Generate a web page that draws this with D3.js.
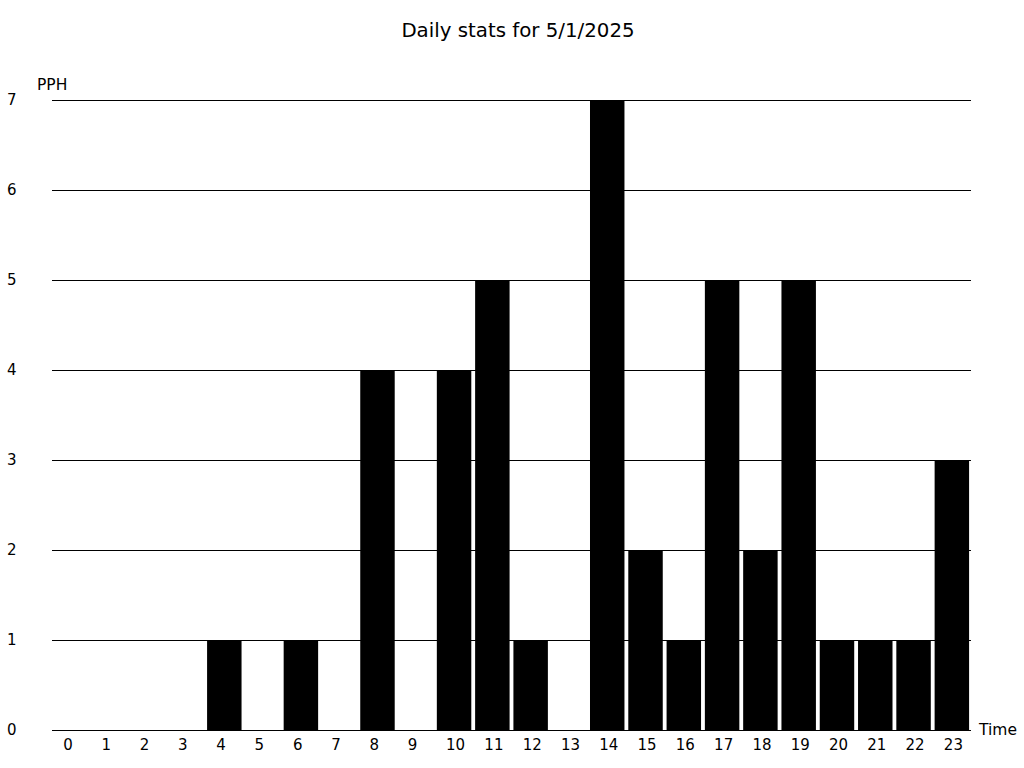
<!DOCTYPE html>
<html lang="en">
<head>
<meta charset="utf-8">
<script src="https://d3js.org/d3.v7.min.js"></script>
<style>
  body { margin: 0; background: #fff; }
  text { font-family: "DejaVu Sans", sans-serif; fill: #000; }
</style>
</head>
<body>
<svg class="chart"></svg>
<script>
const hours = d3.range(24).map(String);
const pph = [0, 0, 0, 0, 1, 0, 1, 0, 4, 0, 4, 5, 1, 0, 7, 2, 1, 5, 2, 5, 1, 1, 1, 3];
const yTicks = [0, 1, 2, 3, 4, 5, 6, 7];

const width = 1024, height = 768;
const plotLeft = 52, plotRight = 971, plotTop = 100, plotBottom = 730;

const svg = d3.select('.chart')
    .attr('width', width)
    .attr('height', height);

const x = d3.scaleBand()
    .domain(hours)
    .range([plotLeft, plotRight])
    .paddingInner(0.1)
    .paddingOuter(0.05);

const y = d3.scaleLinear()
    .domain([0, 7])
    .range([plotBottom, plotTop]);

// title
svg.append('text')
    .attr('x', 518)
    .attr('y', 37)
    .attr('text-anchor', 'middle')
    .style('font-size', '19.8px')
    .text('Daily stats for 5/1/2025');

// grid lines
svg.append('g')
    .selectAll('line')
    .data(yTicks)
    .join('line')
    .attr('x1', plotLeft)
    .attr('x2', plotRight)
    .attr('y1', d => y(d) + 0.5)
    .attr('y2', d => y(d) + 0.5)
    .attr('stroke', '#000')
    .attr('stroke-width', 1);

// y labels
svg.append('g')
    .selectAll('text')
    .data(yTicks)
    .join('text')
    .attr('x', 7)
    .attr('y', d => y(d))
    .attr('dy', '0.35em')
    .style('font-size', '15px')
    .text(d => d);

svg.append('text')
    .attr('x', 37)
    .attr('y', 90)
    .style('font-size', '15.5px')
    .text('PPH');

// bars
svg.append('g')
    .selectAll('rect')
    .data(pph)
    .join('rect')
    .attr('x', (d, i) => x(hours[i]))
    .attr('y', d => y(d))
    .attr('width', x.bandwidth())
    .attr('height', d => plotBottom - y(d))
    .attr('fill', '#000');

// x labels
svg.append('g')
    .selectAll('text')
    .data(hours)
    .join('text')
    .attr('x', d => x(d) + x.bandwidth() / 2 - 8)
    .attr('y', 745)
    .attr('dy', '0.35em')
    .style('font-size', '15px')
    .text(d => d);

svg.append('text')
    .attr('x', 979)
    .attr('y', 730)
    .attr('dy', '0.35em')
    .style('font-size', '15.5px')
    .text('Time');
</script>
</body>
</html>
